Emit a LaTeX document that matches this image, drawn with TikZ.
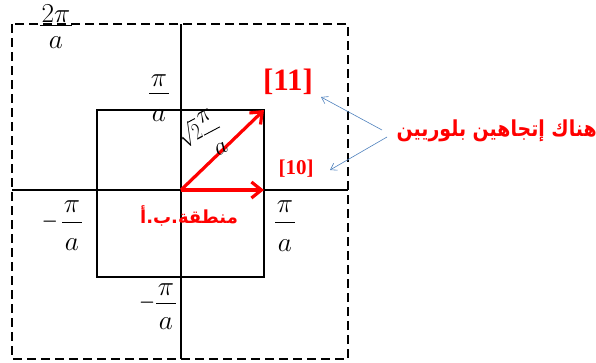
\documentclass[tikz,border=0pt]{standalone}
\usepackage{amsmath}
\usepackage{fontspec}
\usetikzlibrary{arrows.meta}
\TeXXeTstate=1
\newfontfamily\arabicfont[Script=Arabic]{DejaVu Sans}
\newfontfamily\brfont{Liberation Serif}
\definecolor{arrowblue}{HTML}{4F81BD}
% stacked fraction: #1 numerator, #2 denominator, #3 numerator baseline above bar, #4 denominator baseline below bar
\newcommand\ffrac[4]{\hbox{%
  \setbox0=\hbox{$#1$}\setbox2=\hbox{$#2$}%
  \dimen0=\wd0 \ifdim\wd2>\dimen0 \dimen0=\wd2 \fi
  \advance\dimen0 by 3pt
  \rlap{\hbox to\dimen0{\hss\raise#3\box0\hss}}%
  \rlap{\hbox to\dimen0{\hss\lower#4\box2\hss}}%
  \vrule width\dimen0 height 0.45pt depth 0.45pt}}
\newcommand\negsign[1]{\llap{\lower0.25em\hbox{\scalebox{0.75}[1]{$-$}}\kern#1}}
\newcommand\enlargelab[1]{\scalebox{1.1}{#1}}
\begin{document}
\begin{tikzpicture}[x=1pt,y=-1pt,
  solidline/.style={line width=2.4pt},
  zonedash/.style={line width=2.4pt, dash pattern=on 9pt off 5pt},
  vec/.style={red, line width=3.2pt, -{Straight Barb[length=10pt,width=16pt]}},
  pointer/.style={arrowblue, line width=0.6pt, -{Straight Barb[length=6pt,width=8pt]}},
  fr/.style={inner sep=0pt, anchor=base, font=\fontsize{24}{28}\selectfont},
  brlab/.style={inner sep=0pt, text=red},
  arlab/.style={inner sep=0pt, text=red}]
\useasboundingbox (0,0) rectangle (596,362);
% outer zone (dashed)
\draw[zonedash] (12,24) rectangle (348,359);
% axes
\draw[solidline] (181,24) -- (181,359);
\draw[solidline] (12,190) -- (348,190);
% first Brillouin zone
\draw[solidline] (97,110) rectangle (264,277);
% vectors
\coordinate (O) at (181,190);
\coordinate (C11) at (264,110);
\coordinate (C10) at (264,190);
\draw[vec] (O) -- (C11);
\draw[vec] (O) -- (C10);
% labels
\node[fr] (l2pi) at (56,25) {\enlargelab{\ffrac{2\pi}{a}{2pt}{21.5pt}}};
\node[fr] (ltop) at (159,93) {\enlargelab{\ffrac{\pi}{a}{5.5pt}{25.5pt}}};
\node[fr] (lright) at (285,222) {\enlargelab{\ffrac{\pi}{a}{9pt}{26.5pt}}};
\node[fr] (lleft) at (72,222) {\enlargelab{\negsign{4pt}\ffrac{\pi}{a}{9pt}{25.5pt}}};
\node[fr] (lbot) at (166,303) {\enlargelab{\negsign{1pt}\ffrac{\pi}{a}{7pt}{24.5pt}}};
\node[fr, rotate=28] (ldiag) at (212,131)
  {\llap{\lower1pt\hbox{\scalebox{0.72}[0.95]{$\sqrt{2}$}}\kern0.5pt}\ffrac{\pi}{a}{11pt}{25pt}};
\node[brlab, font=\brfont\bfseries\fontsize{31}{35}\selectfont] (d11) at (288,82) {[11]};
\node[brlab, font=\brfont\bfseries\fontsize{21}{25}\selectfont] (d10) at (296,169) {[10]};
\node[arlab, anchor=east, font=\arabicfont\bfseries\fontsize{22}{26}\selectfont] (two) at (597,131)
  {\scalebox{0.86}[1]{\beginR هناك إتجاهين بلوريين\endR}};
\node[arlab, font=\arabicfont\bfseries\fontsize{18}{22}\selectfont] (bzone) at (189,216) {\beginR منطقة.ب.أ\endR};
% pointers
\coordinate (p1s) at (382,130);
\coordinate (p1e) at (321,97);
\coordinate (p2s) at (387,137);
\coordinate (p2e) at (330,170);
\draw[pointer] (p1s) -- (p1e);
\draw[pointer] (p2s) -- (p2e);
\end{tikzpicture}
\end{document}
